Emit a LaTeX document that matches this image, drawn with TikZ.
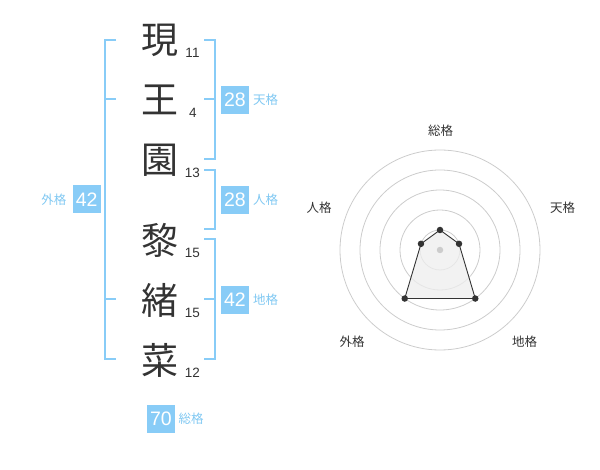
\documentclass[tikz,border=0pt]{standalone}
\usepackage{fontspec}
\setmainfont{Liberation Sans}
\newfontfamily\jp{Noto Sans CJK JP}
\definecolor{bl}{HTML}{88CCF7}
\definecolor{bltxt}{HTML}{80C8F2}
\definecolor{dk}{HTML}{333333}
\definecolor{ringc}{HTML}{CCCCCC}
\definecolor{fillc}{HTML}{EEEEEE}
\tikzset{
  kanji/.style={inner sep=0pt, text=dk, font=\jp\fontsize{37}{37}\selectfont},
  num/.style={inner sep=0pt, text=dk, font=\fontsize{13.5}{13.5}\selectfont},
  valbox/.style={fill=bl, text=white, minimum width=28pt, minimum height=28pt, inner sep=0pt, font=\fontsize{19.5}{19.5}\selectfont},
  kaku/.style={inner sep=0pt, text=bltxt, font=\jp\fontsize{12.5}{12.5}\selectfont},
  rlabel/.style={inner sep=0pt, text=dk, font=\jp\fontsize{12.5}{12.5}\selectfont},
  brk/.style={draw=bl, line width=2pt},
  ring/.style={draw=ringc, line width=0.8pt},
  dot/.style={circle, fill=dk, inner sep=0pt, minimum size=6.5pt},
}
\begin{document}
\begin{tikzpicture}[x=1pt,y=-1pt]
\useasboundingbox (0,0) rectangle (600,470);
% kanji
\node[kanji] (k1) at (160,40) {現};
\node[kanji] (k2) at (160,100) {王};
\node[kanji] (k3) at (160,160) {園};
\node[kanji] (k4) at (160,240) {黎};
\node[kanji] (k5) at (160,300) {緒};
\node[kanji] (k6) at (160,360) {菜};
% stroke counts
\node[num] (n1) at (192.5,52.7) {11};
\node[num] (n2) at (193,112.7) {4};
\node[num] (n3) at (192.5,172.7) {13};
\node[num] (n4) at (192.5,252.7) {15};
\node[num] (n5) at (192.5,312.7) {15};
\node[num] (n6) at (192.5,372.7) {12};
% left bracket (gaikaku)
\draw[brk] (116,40) -- (105,40) -- (105,359.3) -- (116,359.3);
\draw[brk] (105,99.3) -- (116,99.3);
\draw[brk] (105,299.3) -- (116,299.3);
% right brackets
\draw[brk] (204,40) -- (214.5,40) -- (214.5,159.3) -- (204,159.3);
\draw[brk] (204,99.3) -- (214.5,99.3);
\draw[brk] (204,169.8) -- (214.5,169.8) -- (214.5,229.3) -- (204,229.3);
\draw[brk] (204,239.3) -- (214.5,239.3) -- (214.5,359.3) -- (204,359.3);
\draw[brk] (204,299.3) -- (214.5,299.3);
% value boxes
\node[valbox] (ten) at (235,100) {28};
\node[kaku] (tenl) at (265.5,100) {天格};
\node[valbox] (jin) at (235,200) {28};
\node[kaku] (jinl) at (265.5,200) {人格};
\node[valbox] (chi) at (235,300) {42};
\node[kaku] (chil) at (265.5,300) {地格};
\node[valbox] (gai) at (86.7,199.5) {42};
\node[kaku] (gail) at (54,200) {外格};
\node[valbox] (sou) at (161,419) {70};
\node[kaku] (soul) at (191,419) {総格};
% radar (y axis points down, so angles are mirrored)
\coordinate (c) at (440,250);
\foreach \r in {20,40,60,80,100} \draw[ring] (c) circle (\r);
\path (c) +(-90:20) coordinate (p1);
\path (c) +(-18:20) coordinate (p2);
\path (c) +(54:60) coordinate (p3);
\path (c) +(126:60) coordinate (p4);
\path (c) +(-162:20) coordinate (p5);
\fill[fillc, opacity=0.75] (p1) -- (p2) -- (p3) -- (p4) -- (p5) -- cycle;
\draw[dk, line width=0.9pt] (p1) -- (p2) -- (p3) -- (p4) -- (p5) -- cycle;
\node[circle, fill=ringc, inner sep=0pt, minimum size=6.5pt] (cd) at (c) {};
\node[dot] (d1) at (p1) {};
\node[dot] (d2) at (p2) {};
\node[dot] (d3) at (p3) {};
\node[dot] (d4) at (p4) {};
\node[dot] (d5) at (p5) {};
\node[rlabel] (r1) at (440.5,130.7) {総格};
\node[rlabel] (r2) at (562.5,208) {天格};
\node[rlabel] (r3) at (319,208) {人格};
\node[rlabel] (r4) at (352,342) {外格};
\node[rlabel] (r5) at (524.7,342) {地格};
\end{tikzpicture}
\end{document}
